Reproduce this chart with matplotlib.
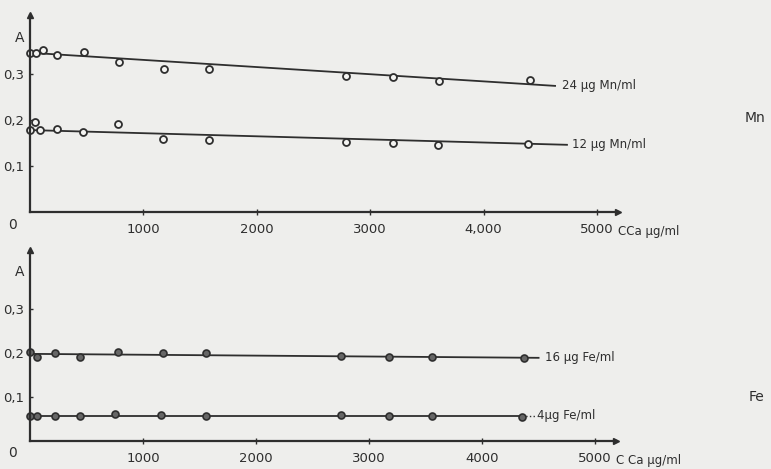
import matplotlib.pyplot as plt

# Data (x: Ca concentration in ug/ml, y: absorbance A)
mn24_x = [0, 50, 115, 240, 475, 785, 1180, 1580, 2790, 3200, 3610, 4410]
mn24_y = [0.346, 0.346, 0.352, 0.341, 0.348, 0.326, 0.311, 0.311, 0.296, 0.293, 0.285, 0.287]
mn12_x = [0, 45, 90, 240, 470, 775, 1175, 1580, 2785, 3200, 3600, 4390]
mn12_y = [0.178, 0.196, 0.178, 0.180, 0.174, 0.191, 0.159, 0.157, 0.152, 0.150, 0.146, 0.148]

fe16_x = [0, 60, 220, 440, 780, 1175, 1560, 2750, 3175, 3555, 4375]
fe16_y = [0.202, 0.191, 0.200, 0.191, 0.202, 0.200, 0.200, 0.193, 0.191, 0.191, 0.189]
fe4_x = [0, 60, 220, 440, 750, 1160, 1560, 2750, 3175, 3555, 4350]
fe4_y = [0.057, 0.057, 0.057, 0.057, 0.061, 0.059, 0.057, 0.059, 0.057, 0.057, 0.055]

# hand drawn fit lines (start, end)
mn24_fit_x, mn24_fit_y = [0, 4630], [0.346, 0.274]
mn12_fit_x, mn12_fit_y = [0, 4735], [0.178, 0.146]
fe16_fit_x, fe16_fit_y = [0, 4500], [0.198, 0.189]
fe4_fit_x, fe4_fit_y = [0, 4350], [0.057, 0.057]

x_ticks = [1000, 2000, 3000, 4000, 5000]
x_labels_top = ['1000', '2000', '3000', '4,000', '5000']
x_labels_bot = ['1000', '2000', '3000', '4000', '5000']
y_ticks = [0.1, 0.2, 0.3]
y_labels = ['0,1', '0,2', '0,3']

W, H = 771, 469
bg = '#eeeeec'
ink = '#2e2e2e'

fig = plt.figure(figsize=(W / 100, H / 100), dpi=100, facecolor=bg)


def rect(left, top, right, bottom):
    return [left / W, 1 - bottom / H, (right - left) / W, (bottom - top) / H]


def style_axes(ax, ymax, xlabels, unit_text):
    ax.set_facecolor('none')
    ax.set_xlim(0, 5185)
    ax.set_ylim(0, ymax)
    for s in ['top', 'right']:
        ax.spines[s].set_visible(False)
    for s in ['left', 'bottom']:
        ax.spines[s].set_color(ink)
        ax.spines[s].set_linewidth(1.6)
    ax.set_xticks(x_ticks)
    ax.set_xticklabels(xlabels)
    ax.set_yticks(y_ticks)
    ax.set_yticklabels(y_labels)
    ax.tick_params(axis='x', direction='inout', length=4, width=1, colors=ink,
                   labelsize=9.5, pad=6)
    ax.tick_params(axis='y', direction='in', length=2, width=1, colors=ink,
                   labelsize=9.5, pad=4)
    # arrow heads at the end of both axes
    ax.plot(1, 0, '>', color=ink, ms=4, transform=ax.transAxes, clip_on=False)
    ax.plot(0, 1, '^', color=ink, ms=4, transform=ax.transAxes, clip_on=False)
    ax.text(-0.03, -0.065, '0', transform=ax.transAxes, ha='center', va='center',
            fontsize=10, color=ink)
    ax.text(-0.018, 0.885, 'A', transform=ax.transAxes, ha='center', va='center',
            fontsize=10, color=ink)
    ax.text(1.0, -0.1, unit_text, transform=ax.transAxes, ha='left', va='center',
            fontsize=8.5, color=ink)


# Mn panel
ax1 = fig.add_axes(rect(30, 15, 618, 212))
style_axes(ax1, 0.428, x_labels_top, 'CCa µg/ml')
ax1.plot(mn24_fit_x, mn24_fit_y, color=ink, lw=1.3)
ax1.plot(mn12_fit_x, mn12_fit_y, color=ink, lw=1.3)
ax1.plot(mn24_x, mn24_y, 'o', ms=5, mfc='#f4f4f2', mec=ink, mew=1.3, clip_on=False)
ax1.plot(mn12_x, mn12_y, 'o', ms=5, mfc='#f4f4f2', mec=ink, mew=1.3, clip_on=False)
ax1.text(mn24_fit_x[1] + 60, mn24_fit_y[1], '24 µg Mn/ml', fontsize=8.5, color=ink,
         va='center', ha='left')
ax1.text(mn12_fit_x[1] + 40, mn12_fit_y[1], '12 µg Mn/ml', fontsize=8.5, color=ink,
         va='center', ha='left')

# Fe panel
ax2 = fig.add_axes(rect(30, 250, 616, 441))
style_axes(ax2, 0.434, x_labels_bot, 'C Ca µg/ml')
ax2.plot(fe16_fit_x, fe16_fit_y, color=ink, lw=1.3)
ax2.plot(fe4_fit_x, fe4_fit_y, color=ink, lw=1.3)
ax2.plot([fe4_fit_x[1], fe4_fit_x[1] + 130], [fe4_fit_y[1]] * 2, color=ink, lw=1, ls=':')
ax2.plot(fe16_x, fe16_y, 'o', ms=5, mfc='#666666', mec=ink, mew=1.2, clip_on=False)
ax2.plot(fe4_x, fe4_y, 'o', ms=5, mfc='#666666', mec=ink, mew=1.2, clip_on=False)
ax2.text(fe16_fit_x[1] + 60, fe16_fit_y[1], '16 µg Fe/ml', fontsize=8.5, color=ink,
         va='center', ha='left')
ax2.text(fe4_fit_x[1] + 140, fe4_fit_y[1], '4µg Fe/ml', fontsize=8.5, color=ink,
         va='center', ha='left')

fig.text(755 / W, 1 - 118 / H, 'Mn', fontsize=10, color=ink, ha='center', va='center')
fig.text(757 / W, 1 - 397 / H, 'Fe', fontsize=10, color=ink, ha='center', va='center')

fig.savefig('out.png', dpi=100, facecolor=bg)
